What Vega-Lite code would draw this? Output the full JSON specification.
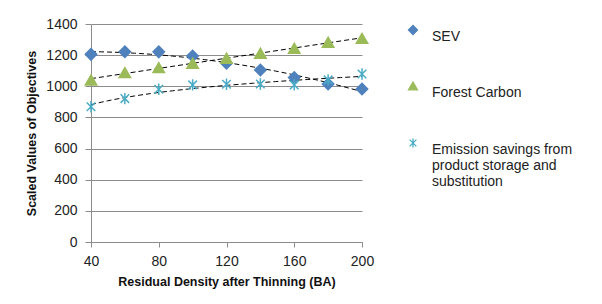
{
  "$schema": "https://vega.github.io/schema/vega-lite/v6.json",
  "width": 271,
  "height": 218,
  "autosize": "none",
  "padding": {"left": 91, "top": 24, "right": 240, "bottom": 62},
  "background": "white",
  "config": {
    "view": {"stroke": null},
    "font": "Liberation Sans",
    "axis": {
      "domainColor": "#8c8c8c",
      "tickColor": "#8c8c8c",
      "gridColor": "#8c8c8c",
      "labelColor": "#222222",
      "titleColor": "#111111",
      "labelFont": "Liberation Sans",
      "titleFont": "Liberation Sans",
      "labelFontSize": 14,
      "titleFontSize": 12.5,
      "titleFontWeight": "bold"
    },
    "legend": {
      "title": null,
      "orient": "none",
      "legendX": 315,
      "legendY": -1,
      "padding": 0,
      "rowPadding": 35,
      "symbolSize": 80,
      "symbolStrokeWidth": 1.3,
      "labelOffset": 12,
      "labelFontSize": 14,
      "labelFont": "Liberation Sans",
      "labelColor": "#222222",
      "labelLimit": 300,
      "labelBaseline": "top",
      "labelLineHeight": 18
    }
  },
  "data": {
    "values": [
      {"x": 40, "series": "SEV", "value": 1205},
      {"x": 60, "series": "SEV", "value": 1222},
      {"x": 80, "series": "SEV", "value": 1221},
      {"x": 100, "series": "SEV", "value": 1195},
      {"x": 120, "series": "SEV", "value": 1148},
      {"x": 140, "series": "SEV", "value": 1105},
      {"x": 160, "series": "SEV", "value": 1056},
      {"x": 180, "series": "SEV", "value": 1015},
      {"x": 200, "series": "SEV", "value": 983},
      {"x": 40, "series": "Forest Carbon", "value": 1040},
      {"x": 60, "series": "Forest Carbon", "value": 1088},
      {"x": 80, "series": "Forest Carbon", "value": 1120},
      {"x": 100, "series": "Forest Carbon", "value": 1148},
      {"x": 120, "series": "Forest Carbon", "value": 1180},
      {"x": 140, "series": "Forest Carbon", "value": 1212},
      {"x": 160, "series": "Forest Carbon", "value": 1244},
      {"x": 180, "series": "Forest Carbon", "value": 1283},
      {"x": 200, "series": "Forest Carbon", "value": 1308},
      {"x": 40, "series": "Emission savings from product storage and substitution", "value": 869},
      {"x": 60, "series": "Emission savings from product storage and substitution", "value": 921},
      {"x": 80, "series": "Emission savings from product storage and substitution", "value": 981},
      {"x": 100, "series": "Emission savings from product storage and substitution", "value": 1009},
      {"x": 120, "series": "Emission savings from product storage and substitution", "value": 1013},
      {"x": 140, "series": "Emission savings from product storage and substitution", "value": 1015},
      {"x": 160, "series": "Emission savings from product storage and substitution", "value": 1009},
      {"x": 180, "series": "Emission savings from product storage and substitution", "value": 1041},
      {"x": 200, "series": "Emission savings from product storage and substitution", "value": 1079}
    ]
  },
  "encoding": {
    "x": {
      "field": "x",
      "type": "quantitative",
      "scale": {"domain": [40, 200], "nice": false, "zero": false},
      "axis": {
        "title": "Residual Density after Thinning (BA)",
        "values": [40, 80, 120, 160, 200],
        "grid": false,
        "labelFlush": false,
        "tickSize": 5,
        "labelPadding": 7,
        "titlePadding": 7
      }
    },
    "y": {
      "field": "value",
      "type": "quantitative",
      "scale": {"domain": [0, 1400], "nice": false},
      "axis": {
        "title": "Scaled Values of Objectives",
        "values": [0, 200, 400, 600, 800, 1000, 1200, 1400],
        "format": "d",
        "labelFlush": false,
        "tickSize": 6,
        "labelPadding": 8,
        "titlePadding": 7
      }
    }
  },
  "layer": [
    {
      "transform": [
        {"filter": "datum.series === 'SEV'"},
        {"regression": "value", "on": "x", "method": "poly", "order": 2, "extent": [40, 200]}
      ],
      "mark": {"type": "line", "color": "black", "strokeWidth": 1, "strokeDash": [5, 3]}
    },
    {
      "transform": [
        {"filter": "datum.series === 'Forest Carbon'"},
        {"regression": "value", "on": "x", "method": "linear", "extent": [40, 200]}
      ],
      "mark": {"type": "line", "color": "black", "strokeWidth": 1, "strokeDash": [5, 3]}
    },
    {
      "transform": [
        {"filter": "datum.series === 'Emission savings from product storage and substitution'"},
        {"regression": "value", "on": "x", "method": "log", "extent": [40, 200]}
      ],
      "mark": {"type": "line", "color": "black", "strokeWidth": 1, "strokeDash": [5, 3]}
    },
    {
      "mark": {"type": "point", "opacity": 1, "strokeWidth": 1.5, "size": 130},
      "encoding": {
        "fill": {
          "field": "series",
          "type": "nominal",
          "scale": {
            "domain": ["SEV", "Forest Carbon", "Emission savings from product storage and substitution"],
            "range": ["#4F81BD", "#9BBB59", "transparent"]
          },
          "legend": null
        },
        "stroke": {
          "field": "series",
          "type": "nominal",
          "scale": {
            "domain": ["SEV", "Forest Carbon", "Emission savings from product storage and substitution"],
            "range": ["#4F81BD", "#9BBB59", "#4BACC6"]
          },
          "legend": null
        },
        "shape": {
          "field": "series",
          "type": "nominal",
          "scale": {
            "domain": ["SEV", "Forest Carbon", "Emission savings from product storage and substitution"],
            "range": ["diamond", "triangle-up", "M-0.75,-0.75L0.75,0.75M-0.75,0.75L0.75,-0.75M0,-1L0,1"]
          },
          "legend": {
            "labelExpr": "datum.label === 'Emission savings from product storage and substitution' ? ['Emission savings from', 'product storage and', 'substitution'] : datum.label",
            "encode": {
              "symbols": {
                "update": {
                  "fill": {"scale": "fill", "field": "value"},
                  "stroke": {"scale": "stroke", "field": "value"},
                  "opacity": {"value": 1},
                  "y": {"value": 10}
                }
              }
            }
          }
        }
      }
    }
  ]
}
